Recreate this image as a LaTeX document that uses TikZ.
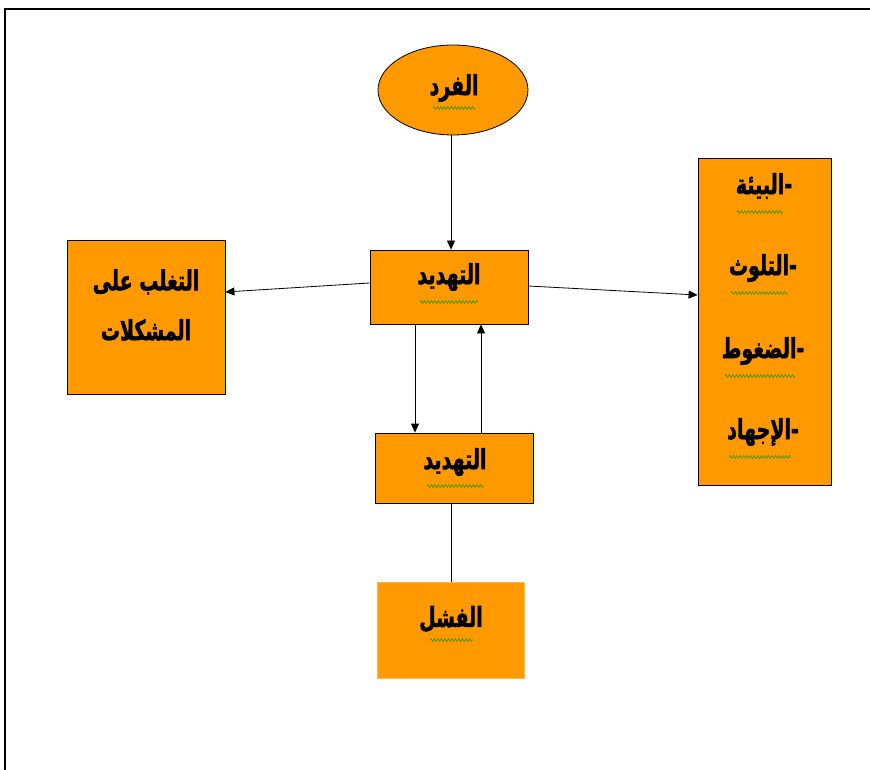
\documentclass[tikz,border=0pt]{standalone}
\usepackage{fontspec}
\usepackage{graphicx}
\newfontfamily\arabicfont[Script=Arabic,FakeBold=2]{DejaVu Sans}
\TeXXeTstate=1
\usetikzlibrary{arrows.meta,decorations.pathmorphing,shapes.geometric}
\definecolor{boxorange}{HTML}{FF9900}
\definecolor{spellgreen}{HTML}{3C9A00}
\newcommand{\ar}[1]{\scalebox{1}[1.45]{\arabicfont\bfseries\beginR #1\endR}}
\begin{document}
\begin{tikzpicture}[x=1pt,y=-1pt,
  box/.style={draw=black,line width=0.8pt,fill=boxorange,rectangle,inner sep=0pt},
  lbl/.style={font=\fontsize{19}{22}\selectfont,inner sep=0pt},
  conn/.style={draw=black,line width=0.8pt},
  arr/.style={conn,-{Triangle[length=9pt,width=8pt]}},
  wavy/.style={draw=spellgreen,line width=0.7pt,decorate,decoration={zigzag,segment length=3.5pt,amplitude=1.4pt}}]
\useasboundingbox (0,0) rectangle (870,770);
% page frame
\draw[line width=1.6pt] (5,770) -- (5,9) -- (870,9);
% shapes
\node[box,ellipse,minimum width=150pt,minimum height=90pt] (fard) at (453,90) {};
\node[box,minimum width=158pt,minimum height=74pt] (tahA) at (449,287) {};
\node[box,minimum width=158pt,minimum height=154pt] (left) at (146,317) {};
\node[box,minimum width=133pt,minimum height=327pt] (right) at (764.5,321.5) {};
\node[box,minimum width=158pt,minimum height=70pt] (tahB) at (454,468) {};
\node[box,draw=boxorange!70!white,line width=0.5pt,minimum width=147pt,minimum height=96pt] (fashal) at (450.5,630) {};
% texts
\node[lbl] (tFard) at (454,88) {\ar{الفرد}};
\node[lbl] (tA) at (449,277) {\ar{التهديد}};
\node[lbl] (tL1) at (146,282) {\ar{التغلب على}};
\node[lbl] (tL2) at (146,330) {\ar{المشكلات}};
\node[lbl] (tR1) at (764,186) {\ar{-البيئة}};
\node[lbl] (tR2) at (763,268) {\ar{-التلوث}};
\node[lbl] (tR3) at (763,351) {\ar{-الضغوط}};
\node[lbl] (tR4) at (763,432) {\ar{-الإجهاد}};
\node[lbl] (tB) at (455,462) {\ar{التهديد}};
\node[lbl] (tF) at (451,619) {\ar{الفشل}};
% spell-check underlines
\draw[wavy] (433,108) -- (475,108);
\draw[wavy] (420,302) -- (478,302);
\draw[wavy] (737,212) -- (783,212);
\draw[wavy] (731,293) -- (788,293);
\draw[wavy] (725,376) -- (795,376);
\draw[wavy] (729,457) -- (791,457);
\draw[wavy] (427,486) -- (484,486);
\draw[wavy] (430,640) -- (473,640);
% connectors
\draw[arr] (fard.south -| 451,0) -- (tahA.north -| 451,0);
\coordinate (aL) at (tahA.west |- 0,283);
\coordinate (lR) at (left.east |- 0,292);
\draw[arr] (aL) -- (lR);
\coordinate (aR) at (tahA.east |- 0,286);
\coordinate (rL) at (right.west |- 0,295);
\draw[arr] (aR) -- (rL);
\draw[arr] (tahA.south -| 415,0) -- (tahB.north -| 415,0);
\draw[arr] (tahB.north -| 481,0) -- (tahA.south -| 481,0);
\draw[conn] (tahB.south -| 451,0) -- (fashal.north -| 451,0);
\end{tikzpicture}
\end{document}
